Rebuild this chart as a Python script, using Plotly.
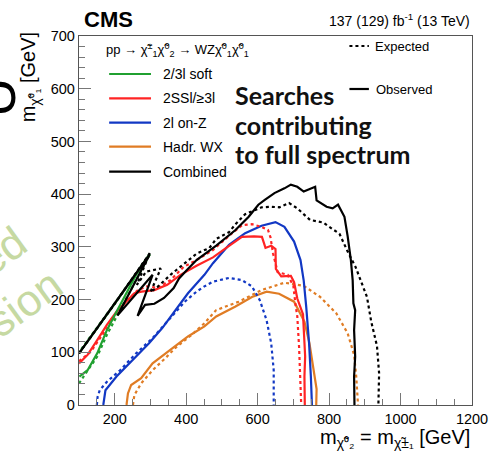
import plotly.graph_objects as go

# ---------------- data ----------------
soft_exp_x = [100, 151, 178, 215, 242, 269, 292, 300, 200, 100]
soft_exp_y = [41, 92, 133, 180, 215, 250, 278, 288, 193, 100]
soft_obs_x = [101, 124, 151, 178, 205, 233, 260, 292, 298, 200, 100]
soft_obs_y = [54, 66, 98, 142, 177, 212, 247, 281, 286, 192, 98]

ssl_exp_x = [100, 133, 160, 190, 215, 240, 265, 290, 320, 356, 393, 429, 475, 520, 556, 584, 611, 629, 636, 643, 656, 684, 700, 706, 711, 716, 720, 722]
ssl_exp_y = [83, 101, 128, 158, 182, 202, 218, 225, 222, 237, 262, 275, 294, 321, 341, 343, 338, 332, 318, 288, 252, 247, 226, 190, 168, 110, 54, 0]
ssl_obs_x = [100, 124, 151, 178, 205, 233, 255, 275, 311, 347, 384, 429, 475, 520, 556, 590, 612, 622, 638, 650, 651, 666, 693, 702, 711, 727, 731, 733, 731, 732]
ssl_obs_y = [79, 95, 123, 152, 177, 196, 212, 215, 218, 228, 247, 264, 280, 302, 319, 320, 319, 298, 302, 296, 258, 244, 245, 233, 202, 172, 130, 92, 54, 0]

onz_exp_x = [150, 152, 158, 178, 215, 260, 306, 351, 396, 429, 451, 475, 520, 556, 584, 606, 625, 638, 645, 645]
onz_exp_y = [0, 15, 28, 44, 66, 98, 127, 161, 196, 215, 225, 234, 241, 237, 225, 199, 161, 117, 66, 0]
onz_obs_x = [168, 174, 205, 251, 296, 333, 369, 405, 451, 475, 520, 565, 611, 650, 675, 702, 720, 729, 736, 744, 749, 752]
onz_obs_y = [0, 28, 54, 85, 117, 146, 180, 212, 247, 269, 304, 326, 340, 347, 338, 310, 275, 236, 186, 117, 54, 0]

wx_exp_x = [251, 255, 274, 306, 342, 369, 415, 451, 484, 547, 611, 675, 729, 775, 820, 852, 870, 876, 881]
wx_exp_y = [0, 19, 41, 66, 89, 108, 133, 155, 180, 196, 218, 232, 226, 205, 174, 136, 95, 54, 0]
wx_obs_x = [233, 237, 246, 274, 306, 342, 369, 405, 451, 484, 538, 584, 625, 660, 702, 731, 745, 755, 765, 764]
wx_obs_y = [0, 22, 38, 51, 79, 98, 111, 130, 149, 168, 187, 205, 215, 211, 196, 158, 117, 75, 30, 0]

comb_exp_x = [100, 200, 298, 262, 288, 329, 300, 320, 356, 393, 429, 465, 484, 520, 538, 565, 584, 611, 638, 661, 688, 711, 747, 784, 811, 829, 852, 874, 906, 918, 934, 940, 938]
comb_exp_y = [98, 192, 288, 228, 253, 259, 214, 224, 247, 268, 287, 298, 315, 328, 343, 362, 367, 375, 376, 375, 383, 373, 351, 346, 333, 325, 291, 262, 205, 158, 112, 60, 0]
comb_obs_x = [100, 200, 298, 208, 306, 264, 285, 311, 338, 365, 380, 402, 429, 485, 538, 575, 602, 620, 647, 675, 693, 711, 729, 761, 765, 793, 810, 825, 834, 843, 852, 861, 866, 868, 873, 870, 873, 870, 871]
comb_obs_y = [98, 192, 286, 170, 247, 169, 190, 192, 203, 222, 240, 256, 275, 303, 332, 357, 380, 389, 402, 411, 418, 414, 405, 414, 388, 376, 373, 380, 367, 357, 320, 275, 237, 193, 180, 142, 92, 54, 0]

legend_names = ["2/3l soft", "2SSl/≥3l", "2l on-Z", "Hadr. WX", "Combined"]
x_ticks = [200, 400, 600, 800, 1000, 1200]
y_ticks = [0, 100, 200, 300, 400, 500, 600, 700]

# ---------------- styling ----------------
GREEN, RED, BLUE, ORANGE, BLACK = "#20a030", "#ff2424", "#1238c4", "#e07c24", "#000000"
FONT = "Liberation Sans, Arial, sans-serif"
W, H = 500, 455
PL, PR, PT, PB = 79, 483, 36, 405  # plot area in px


def px(xp, yp):
    return (xp - PL) / (PR - PL), (PB - yp) / (PB - PT)


fig = go.Figure()
series = [
    (wx_exp_x, wx_exp_y, ORANGE, "dot"), (wx_obs_x, wx_obs_y, ORANGE, "solid"),
    (onz_exp_x, onz_exp_y, BLUE, "dot"), (onz_obs_x, onz_obs_y, BLUE, "solid"),
    (ssl_exp_x, ssl_exp_y, RED, "dot"), (ssl_obs_x, ssl_obs_y, RED, "solid"),
    (soft_exp_x, soft_exp_y, GREEN, "dot"), (soft_obs_x, soft_obs_y, GREEN, "solid"),
    (comb_exp_x, comb_exp_y, BLACK, "dot"), (comb_obs_x, comb_obs_y, BLACK, "solid"),
]
for xs, ys, c, d in series:
    fig.add_trace(go.Scatter(x=xs, y=ys, mode="lines", showlegend=False, hoverinfo="skip",
                             line=dict(color=c, width=2.2, dash=d)))

shapes = []
ann = []

# manual legend
lx0, ly0 = px(105, 50)
ann.append(dict(x=lx0, y=ly0, xref="paper", yref="paper", xanchor="left", yanchor="middle", showarrow=False,
                text="pp → χ̃<sup>±</sup><sub>1</sub>χ̃<sup>0</sup><sub>2</sub> → WZχ̃<sup>0</sup><sub>1</sub>χ̃<sup>0</sup><sub>1</sub>",
                font=dict(family=FONT, size=13, color="black")))
ys_leg = [74, 98.3, 122.7, 146.7, 171.7]
for name, c, yy in zip(legend_names, [GREEN, RED, BLUE, ORANGE, BLACK], ys_leg):
    a0, b0 = px(110, yy)
    a1, _ = px(153, yy)
    shapes.append(dict(type="line", xref="paper", yref="paper", x0=a0, x1=a1, y0=b0, y1=b0,
                       line=dict(color=c, width=2.2)))
    t0, _ = px(163, yy)
    ann.append(dict(x=t0, y=b0, xref="paper", yref="paper", xanchor="left", yanchor="middle", showarrow=False,
                    text=name, font=dict(family=FONT, size=14, color="black")))

for label, yy, d, tx in [("Expected", 46, "dot", 381), ("Observed", 89, "solid", 382)]:
    a0, b0 = px(357, yy)
    a1, _ = px(377, yy)
    shapes.append(dict(type="line", xref="paper", yref="paper", x0=a0, x1=a1, y0=b0, y1=b0,
                       line=dict(color="black", width=2.2, dash=d)))
    t0, _ = px(tx, yy)
    ann.append(dict(x=t0, y=b0, xref="paper", yref="paper", xanchor="left", yanchor="middle", showarrow=False,
                    text=label, font=dict(family=FONT, size=13, color="black")))

# header texts
cx, cy = px(82, 19)
ann.append(dict(x=cx, y=cy, xref="paper", yref="paper", xanchor="left", yanchor="middle", showarrow=False,
                text="<b>CMS</b>", font=dict(family=FONT, size=22, color="black")))
rx, ry = px(483, 20)
ann.append(dict(x=rx, y=ry, xref="paper", yref="paper", xanchor="right", yanchor="middle", showarrow=False,
                text="137 (129) fb<sup>-1</sup> (13 TeV)", font=dict(family=FONT, size=14, color="black")))

# axis titles
xt, yt = px(483, 438)
ann.append(dict(x=xt, y=yt, xref="paper", yref="paper", xanchor="right", yanchor="middle", showarrow=False,
                text="m<sub>χ̃⁰₂</sub> = m<sub>χ̃±₁</sub> [GeV]", font=dict(family=FONT, size=20, color="black")))
xt, yt = px(29, 30)
ann.append(dict(x=xt, y=yt, xref="paper", yref="paper", xanchor="center", yanchor="top", showarrow=False,
                textangle=-90, text="m<sub>χ̃⁰₁</sub> [GeV]", font=dict(family=FONT, size=20, color="black")))

# overlay text (three lines)
for line_txt, yy in [("Searches", 95), ("contributing", 125), ("to full spectrum", 154)]:
    sx, sy = px(237, yy)
    ann.append(dict(x=sx, y=sy, xref="paper", yref="paper", xanchor="left", yanchor="middle", showarrow=False,
                    text="<b>" + line_txt + "</b>",
                    font=dict(family="Lato, Open Sans, sans-serif", size=25, color="#111111")))

# clipped decorations at the left edge
ux, uy = px(-6, 97)
ann.append(dict(x=ux, y=uy, xref="paper", yref="paper", xanchor="center", yanchor="middle", showarrow=False,
                textangle=-90, text="U", font=dict(family=FONT, size=55, color="black")))
for word, cxp, cyp in [("Superseded", -80, 306), ("version", -3, 320)]:
    wx, wy = px(cxp, cyp)
    ann.append(dict(x=wx, y=wy, xref="paper", yref="paper", xanchor="center", yanchor="middle", showarrow=False,
                    textangle=-36, text=word, font=dict(family=FONT, size=44, color="#c6d9a2")))

axis_common = dict(showline=True, linecolor="#555555", linewidth=1.3, mirror=True, ticks="inside",
                   tickcolor="#777777", tickwidth=1.2, ticklen=12, showgrid=False, zeroline=False,
                   tickfont=dict(family=FONT, size=14.5, color="black"))
fig.update_layout(
    width=W, height=H, margin=dict(l=PL, r=W - PR, t=PT, b=H - PB),
    paper_bgcolor="white", plot_bgcolor="white",
    xaxis=dict(range=[100, 1200], tickvals=x_ticks,
               minor=dict(dtick=50, tick0=0, ticks="inside", ticklen=6, tickcolor="#777777", tickwidth=1.2),
               **axis_common),
    yaxis=dict(range=[0, 700], tickvals=y_ticks,
               minor=dict(dtick=20, tick0=0, ticks="inside", ticklen=6, tickcolor="#777777", tickwidth=1.2),
               **axis_common),
    shapes=shapes, annotations=ann,
)
fig.write_html("out.html")
